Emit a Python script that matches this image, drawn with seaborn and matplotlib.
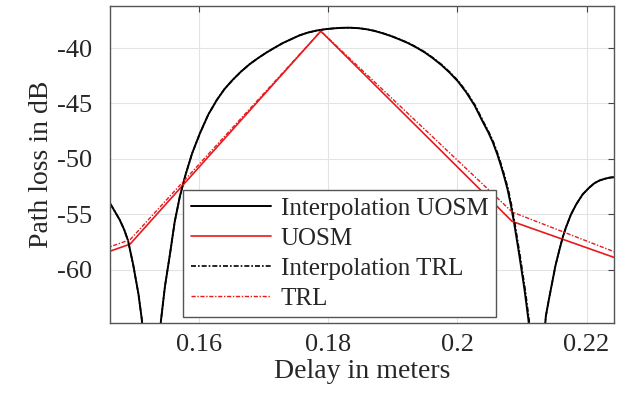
import matplotlib
matplotlib.use("Agg")
import matplotlib.pyplot as plt
import seaborn as sns

# values (delay in m, path loss in dB)
interp_uosm_x = [0.1455, 0.1463, 0.1470, 0.1478, 0.1485, 0.1491, 0.1499, 0.1507,
                 0.1512, 0.1516,
                 0.1527,
                 0.1538, 0.1542, 0.1548, 0.1556, 0.1563, 0.1571, 0.1580, 0.1590,
                 0.1602, 0.1615, 0.1628, 0.1640, 0.1653, 0.1666, 0.1679, 0.1692,
                 0.1705, 0.1718, 0.1730, 0.1743, 0.1756, 0.1769, 0.1782, 0.1795,
                 0.1808, 0.1821, 0.1834, 0.1847, 0.1860, 0.1872, 0.1884, 0.1897,
                 0.1910, 0.1924, 0.1937, 0.1950, 0.1962, 0.1975, 0.1988, 0.2001,
                 0.2014, 0.2027, 0.2039, 0.2048, 0.2055, 0.2062, 0.2068, 0.2073,
                 0.2078, 0.2083, 0.2088, 0.2096, 0.2104, 0.2110, 0.2114,
                 0.2123,
                 0.2133, 0.2137, 0.2142, 0.2147, 0.2152, 0.2158, 0.2163, 0.2168,
                 0.2176, 0.2184, 0.2194, 0.2204, 0.2212, 0.2220, 0.2228, 0.2235,
                 0.2250]
interp_uosm_y = [-53.3, -54.0, -54.7, -55.5, -56.4, -57.4, -59.6, -62.2,
                 -64.4, -67.0,
                 -80.0,
                 -67.0, -64.5, -61.5, -58.5, -55.7, -53.4, -51.4, -49.5,
                 -47.7, -46.0, -44.7, -43.7, -42.85, -42.1, -41.45, -40.9,
                 -40.4, -39.95, -39.55, -39.2, -38.85, -38.6, -38.42, -38.3,
                 -38.22, -38.17, -38.16, -38.2, -38.3, -38.45, -38.65, -38.9,
                 -39.2, -39.55, -39.95, -40.4, -40.9, -41.5, -42.2, -43.0,
                 -44.0, -45.2, -46.6, -47.6, -48.5, -49.6, -50.7, -51.7,
                 -52.8, -54.2, -55.8, -58.7, -61.8, -64.5, -67.0,
                 -80.0,
                 -67.0, -64.2, -62.6, -61.1, -59.6, -58.2, -57.1, -56.2,
                 -55.0, -54.1, -53.2, -52.6, -52.2, -51.95, -51.8, -51.7,
                 -51.6]

interp_trl_x = [0.1455, 0.1463, 0.1470, 0.1478, 0.1485, 0.1491, 0.1499, 0.1507,
                0.1512, 0.1516,
                0.1527,
                0.1538, 0.1542, 0.1548, 0.1556, 0.1563, 0.1571, 0.1580, 0.1590,
                0.1602, 0.1615, 0.1628, 0.1640, 0.1653, 0.1666, 0.1679, 0.1692,
                0.1705, 0.1718, 0.1730, 0.1743, 0.1756, 0.1769, 0.1782, 0.1795,
                0.1809, 0.1822, 0.1835, 0.1848, 0.1861, 0.1873, 0.1885, 0.1898,
                0.1911, 0.1925, 0.1938, 0.1951, 0.1963, 0.1976, 0.1989, 0.2002,
                0.2015, 0.2028, 0.2040, 0.2049, 0.2056, 0.2063, 0.2069, 0.2074,
                0.2079, 0.2084, 0.2089, 0.2097, 0.2105, 0.2111, 0.2115,
                0.2124,
                0.2133, 0.2137, 0.2142, 0.2147, 0.2152, 0.2158, 0.2163, 0.2168,
                0.2176, 0.2184, 0.2194, 0.2204, 0.2212, 0.2220, 0.2228, 0.2235,
                0.2250]
interp_trl_y = [-53.3, -54.0, -54.7, -55.5, -56.4, -57.4, -59.6, -62.2,
                -64.4, -67.0,
                -80.0,
                -67.0, -64.5, -61.5, -58.5, -55.7, -53.4, -51.4, -49.5,
                -47.7, -46.0, -44.7, -43.7, -42.85, -42.1, -41.45, -40.9,
                -40.4, -39.95, -39.55, -39.2, -38.85, -38.6, -38.42, -38.3,
                -38.22, -38.17, -38.16, -38.2, -38.3, -38.45, -38.65, -38.9,
                -39.2, -39.55, -39.95, -40.4, -40.9, -41.5, -42.2, -43.0,
                -44.0, -45.2, -46.6, -47.6, -48.5, -49.6, -50.7, -51.7,
                -52.8, -54.2, -55.8, -58.7, -61.8, -64.5, -67.0,
                -80.0,
                -67.0, -64.2, -62.6, -61.1, -59.6, -58.2, -57.1, -56.2,
                -55.0, -54.1, -53.2, -52.6, -52.2, -51.95, -51.8, -51.7,
                -51.6]

uosm_x = [0.1455, 0.1494, 0.1789, 0.2085, 0.2250]
uosm_y = [-58.5, -57.7, -38.47, -55.65, -59.05]

trl_x = [0.1455, 0.1494, 0.1789, 0.2085, 0.2250]
trl_y = [-58.1, -57.3, -38.47, -54.8, -58.55]

x_ticks = [0.16, 0.18, 0.2, 0.22]
x_tick_labels = ["0.16", "0.18", "0.2", "0.22"]
y_ticks = [-60, -55, -50, -45, -40]

sns.set_style("whitegrid")
plt.rcParams['font.family'] = ['Liberation Serif', 'DejaVu Serif']
plt.rcParams['axes.unicode_minus'] = False

fig = plt.figure(figsize=(6.25, 4.01), dpi=100)
ax = fig.add_axes([0.176, 0.195, 0.806, 0.79])

sns.lineplot(x=interp_uosm_x, y=interp_uosm_y, ax=ax, color="black", lw=1.4,
             sort=False, label="Interpolation UOSM")
sns.lineplot(x=uosm_x, y=uosm_y, ax=ax, color="#e8191c", lw=1.2,
             sort=False, label="UOSM")
sns.lineplot(x=interp_trl_x, y=interp_trl_y, ax=ax, color="black", lw=1.2,
             dashes=False, sort=False, label="Interpolation TRL")
sns.lineplot(x=trl_x, y=trl_y, ax=ax, color="#e8191c", lw=1.0,
             dashes=False, sort=False, label="TRL")
# dash-dot styling for the TRL series
ax.lines[2].set_dashes([3, 1.2, 1, 1.2])
ax.lines[3].set_dashes([3, 1.2, 1, 1.2])

ax.set_xlim(0.1463, 0.2242)
ax.set_ylim(-64.8, -36.2)
ax.set_xticks(x_ticks)
ax.set_xticklabels(x_tick_labels)
ax.set_yticks(y_ticks)
ax.grid(True, color="#e3e3e3", lw=0.8)
ax.tick_params(direction="in", top=True, right=True, length=4, width=0.8,
               color="#444444", labelsize=19, pad=8)
ax.tick_params(axis="y", pad=13)
for s in ax.spines.values():
    s.set_color("#555555")
    s.set_linewidth(1.0)

ax.set_xlabel("Delay in meters", fontsize=20, labelpad=2)
ax.set_ylabel("Path loss in dB", fontsize=20, labelpad=2)

leg = ax.legend(loc="upper left", bbox_to_anchor=(0.145, 0.42), borderaxespad=0,
                fontsize=18, handlelength=3.2, handletextpad=0.4,
                labelspacing=0.3, frameon=True, fancybox=False,
                borderpad=0.3)
leg.get_frame().set_edgecolor("#555555")
leg.get_frame().set_linewidth(1.0)
leg.get_frame().set_alpha(1)

fig.savefig("out.png", dpi=100)
